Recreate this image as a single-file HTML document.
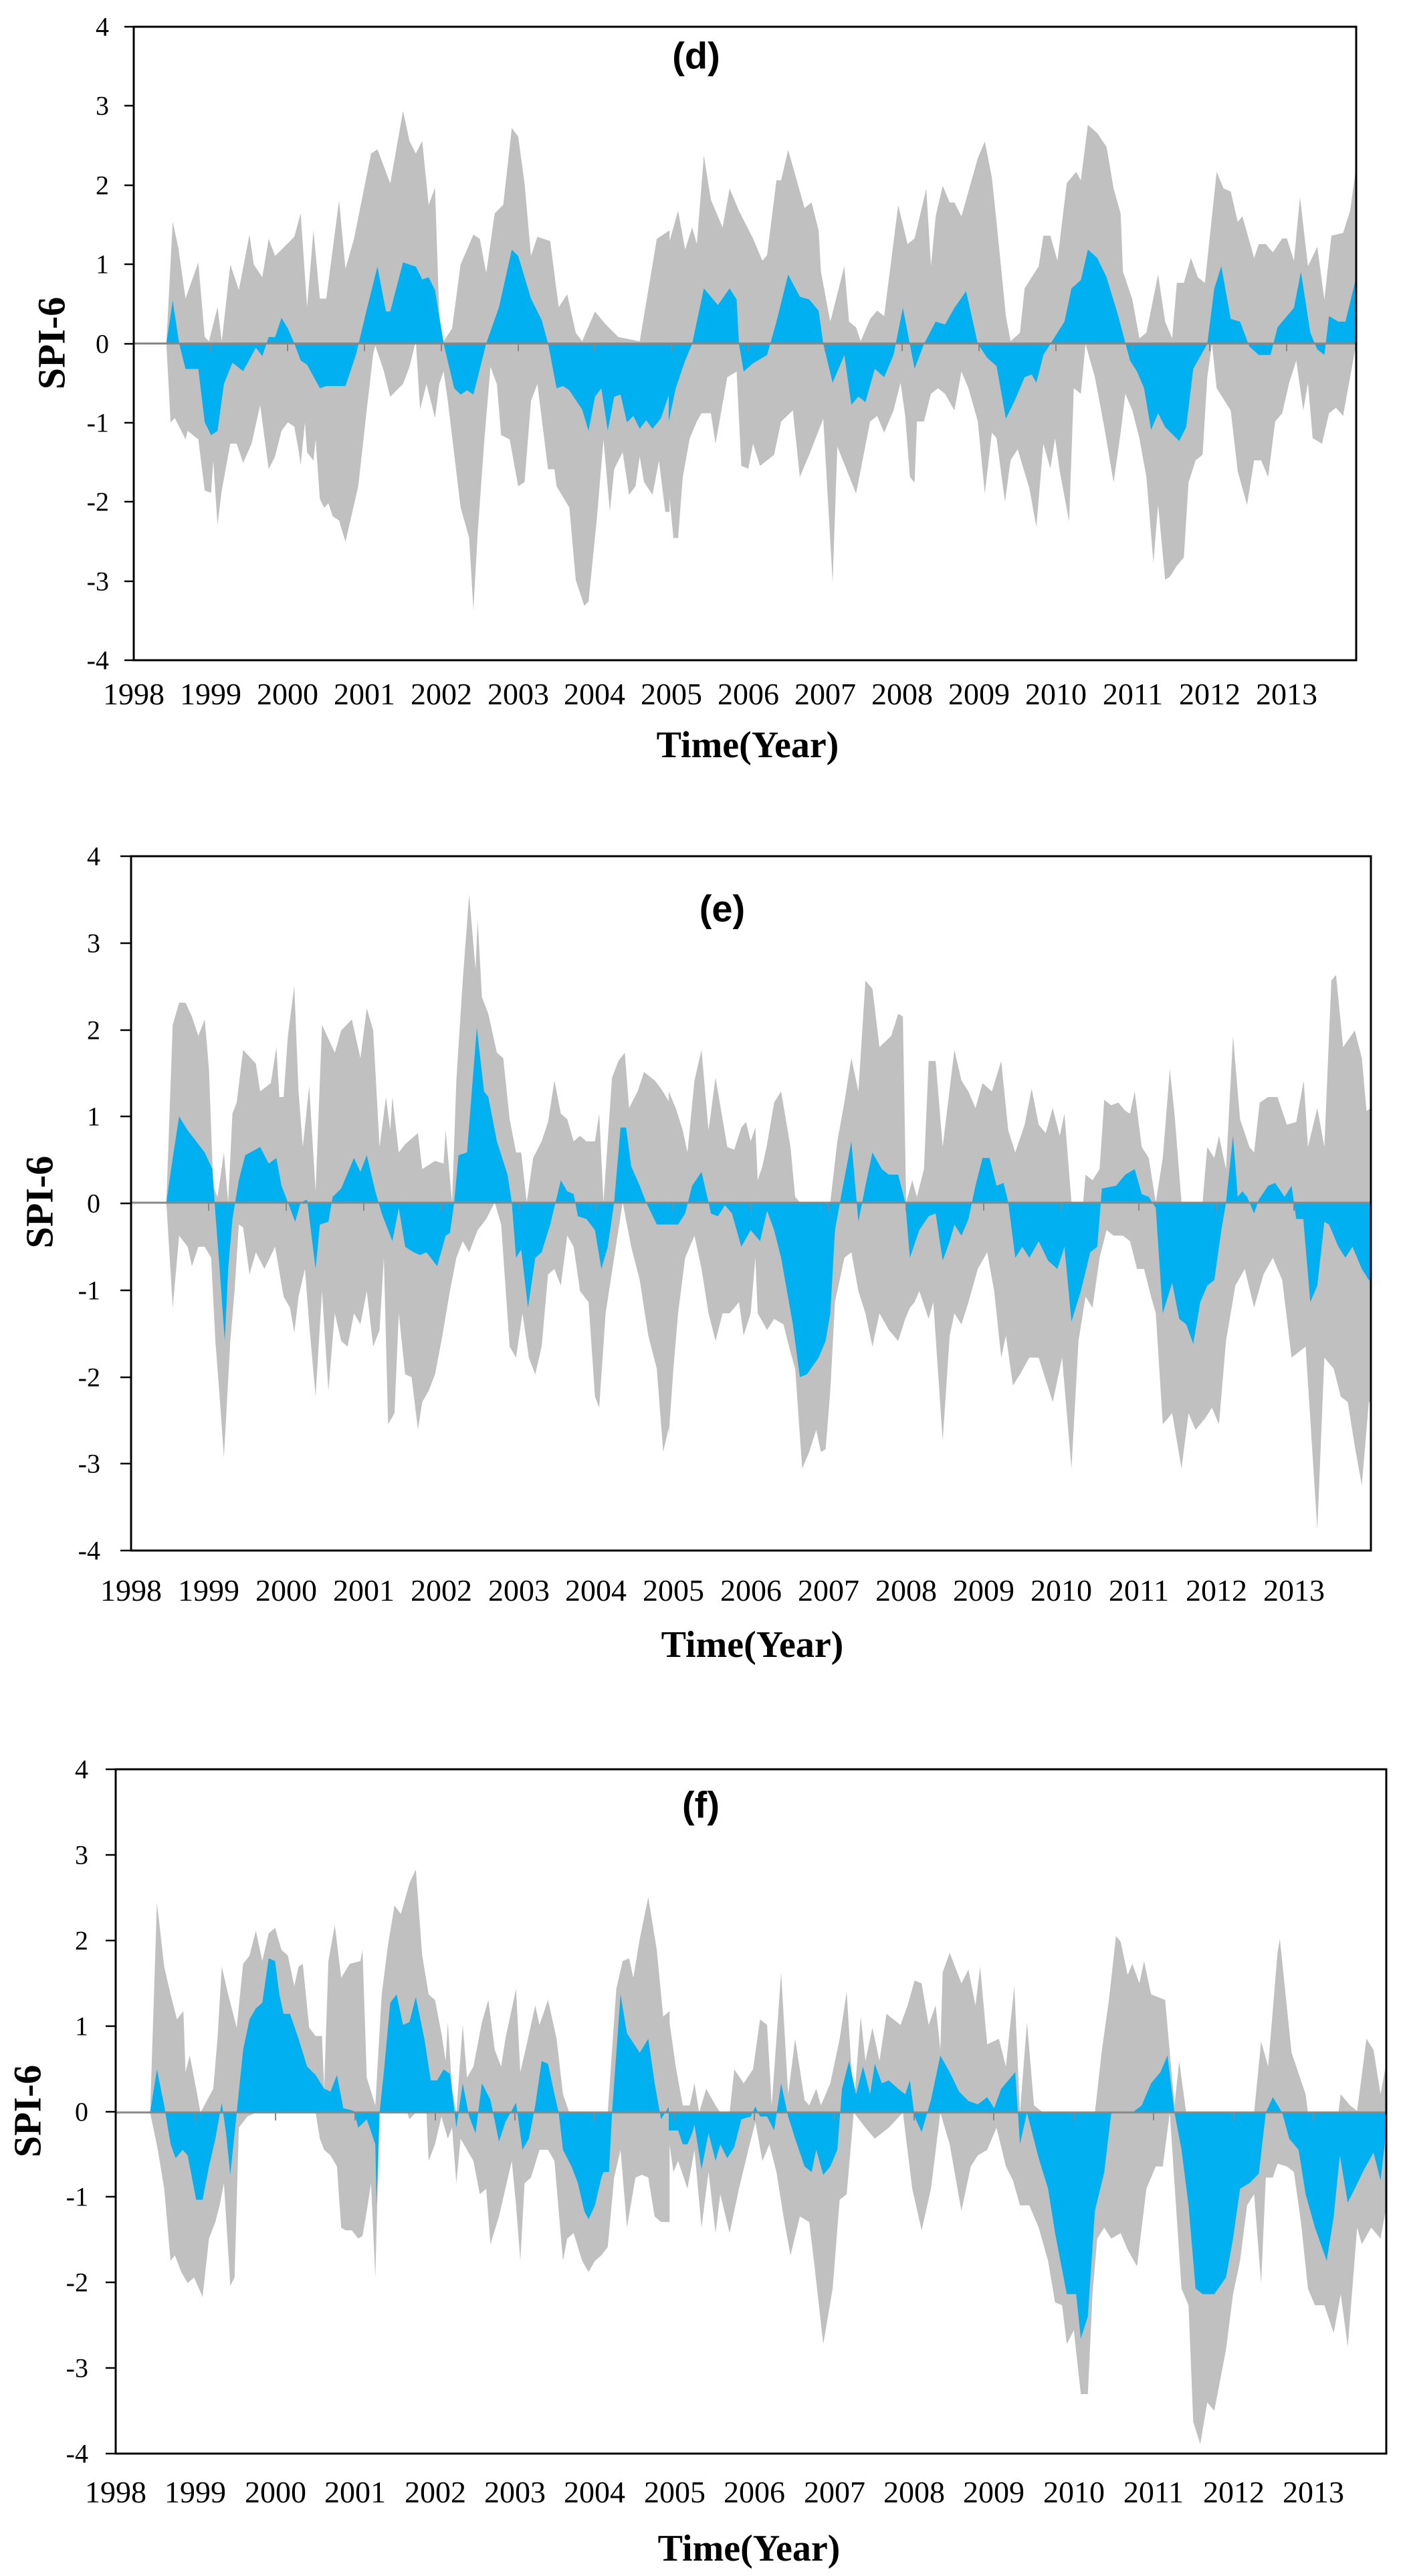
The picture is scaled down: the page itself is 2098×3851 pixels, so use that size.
<!DOCTYPE html>
<html><head><meta charset="utf-8"><style>
html,body{margin:0;padding:0;background:#fff;}
svg{display:block;}
.yl{font-family:"Liberation Serif",serif;font-size:40px;text-anchor:end;dominant-baseline:central;}
.xl{font-family:"Liberation Serif",serif;font-size:46px;text-anchor:middle;}
.tt{font-family:"Liberation Serif",serif;font-size:56px;font-weight:bold;text-anchor:middle;}
.sp{font-family:"Liberation Serif",serif;font-size:58px;font-weight:bold;text-anchor:middle;dominant-baseline:central;}
.pl{font-family:"Liberation Sans",sans-serif;font-size:56px;font-weight:bold;text-anchor:middle;dominant-baseline:central;}
.g{fill:#c0c0c0;}
.b{fill:#00b0f0;}
</style></head><body>
<svg width="2098" height="3851" viewBox="0 0 2098 3851" xmlns="http://www.w3.org/2000/svg">
<rect width="2098" height="3851" fill="#fff"/>

<!-- ===== Chart d ===== -->
<g transform="scale(0.63776)">
<polygon class="g" points="390,805 405,520 418,580 435,700 465,615 480,790 490,800 510,720 520,800 540,620 560,680 585,550 595,620 615,650 630,560 645,600 690,555 705,500 720,720 735,540 750,700 765,700 795,470 810,630 830,560 870,360 885,350 915,430 945,260 960,330 975,360 990,330 1005,480 1020,440 1030,740 1040,800 1060,770 1080,620 1110,550 1125,560 1140,640 1160,500 1180,480 1200,300 1215,320 1230,430 1245,600 1260,555 1290,565 1310,720 1330,690 1350,780 1365,800 1395,730 1420,760 1450,790 1500,800 1540,560 1570,540 1570,1200 1560,1200 1545,1080 1530,1160 1510,1130 1500,1070 1490,1140 1475,1160 1460,1060 1440,1100 1430,1200 1415,1030 1400,1210 1380,1410 1370,1420 1350,1360 1335,1190 1305,1140 1300,1100 1285,1100 1260,900 1245,940 1230,1130 1215,1140 1195,1030 1175,1020 1165,900 1150,860 1135,1040 1120,1250 1110,1430 1100,1260 1080,1190 1050,940 1040,870 1030,900 1020,980 1000,900 985,960 975,800 960,860 945,900 915,930 900,870 880,810 875,830 860,960 840,1140 810,1270 795,1220 780,1210 770,1180 760,1190 750,1170 740,1030 735,1080 720,1060 715,990 705,1090 700,1055 690,1000 675,990 660,1010 645,1070 630,1100 610,950 590,1040 570,1085 555,1040 540,1040 520,1150 510,1230 500,1080 495,1155 480,1150 465,1030 440,1010 435,1030 420,1000 410,980 400,990"/>
<polygon class="b" points="390,805 405,705 420,805 435,865 465,865 480,990 495,1020 510,1010 525,900 545,850 570,870 600,815 615,835 630,790 645,790 660,745 675,770 690,805 705,845 720,855 750,910 765,905 810,905 835,830 860,725 885,625 905,730 915,730 945,615 975,625 990,655 1005,650 1020,680 1040,805 1065,910 1080,925 1095,915 1110,925 1140,805 1170,720 1200,585 1215,600 1245,700 1270,750 1285,805 1305,910 1320,905 1335,915 1365,960 1380,1010 1395,930 1410,910 1425,1010 1440,930 1455,925 1470,990 1485,975 1500,1005 1515,985 1530,1005 1550,980 1570,920 1570,805"/>
</g>
<g transform="translate(1000,0) scale(0.70028,0.82919)">
<polygon class="g" points="0,440 20,380 35,450 50,410 60,440 75,280 90,360 115,410 130,340 150,380 180,430 200,470 210,460 230,325 240,325 255,270 290,375 305,365 320,415 325,490 345,580 375,480 385,580 400,590 410,615 430,575 445,560 460,570 490,370 510,440 525,430 550,340 560,480 570,390 585,335 600,365 610,365 625,390 640,345 660,285 675,255 690,320 700,400 720,570 730,615 750,600 760,520 790,480 800,425 815,425 830,470 850,330 870,310 880,325 895,225 915,240 935,265 950,340 965,385 970,490 990,540 1005,610 1020,600 1045,495 1060,580 1075,610 1085,510 1100,510 1115,465 1130,500 1145,510 1170,310 1185,340 1200,345 1215,400 1225,390 1250,465 1260,440 1275,440 1290,455 1310,430 1320,430 1335,470 1348,355 1365,480 1385,445 1400,540 1415,425 1440,420 1455,380 1468,300 1468,620 1455,680 1440,750 1425,735 1410,745 1395,800 1375,790 1365,690 1355,740 1340,650 1325,690 1310,745 1295,760 1280,860 1265,830 1250,830 1235,910 1215,850 1200,740 1185,720 1170,700 1160,620 1150,680 1140,820 1125,830 1110,870 1100,1005 1085,1020 1070,1040 1060,1045 1045,910 1035,1015 1020,860 1005,790 990,740 975,710 965,780 950,870 930,770 910,680 890,620 880,710 865,700 855,940 835,850 825,790 815,845 800,800 785,950 770,880 745,810 730,830 718,905 700,790 690,780 675,890 660,760 640,700 625,670 610,740 590,710 575,700 560,710 545,760 530,760 525,870 515,860 505,750 495,690 480,740 460,780 445,750 430,760 400,890 360,805 350,1050 330,755 300,820 280,860 265,740 240,760 225,820 195,840 180,800 170,845 155,840 145,670 125,680 100,800 90,745 70,745 60,760 45,790 30,860 20,970 10,970 0,880"/>
<polygon class="b" points="0,760 15,700 35,650 50,620 75,520 105,550 130,520 145,540 150,620 160,670 180,655 210,640 230,580 255,495 280,535 300,540 320,560 330,620 350,690 375,640 390,730 405,715 420,725 440,665 460,680 480,640 500,555 525,665 545,620 570,580 590,585 610,555 635,525 660,620 680,645 700,660 720,755 740,720 760,680 775,675 785,690 800,640 830,600 845,580 860,520 880,505 895,450 915,465 935,500 960,570 985,650 1000,670 1015,700 1030,775 1045,745 1060,770 1090,795 1105,770 1120,665 1150,620 1165,520 1180,480 1200,575 1220,580 1240,625 1260,640 1285,640 1300,590 1320,570 1335,555 1350,490 1370,600 1385,630 1400,640 1410,570 1430,580 1445,580 1468,500 1468,620 0,620"/>
</g>
<line x1="200" y1="513.5" x2="2028" y2="513.5" stroke="#888" stroke-width="3"/>
<g stroke="#888" stroke-width="2">
<line x1="315" y1="513" x2="315" y2="525"/><line x1="430" y1="513" x2="430" y2="525"/><line x1="545" y1="513" x2="545" y2="525"/><line x1="660" y1="513" x2="660" y2="525"/><line x1="775" y1="513" x2="775" y2="525"/><line x1="889" y1="513" x2="889" y2="525"/><line x1="1004" y1="513" x2="1004" y2="525"/><line x1="1119" y1="513" x2="1119" y2="525"/><line x1="1234" y1="513" x2="1234" y2="525"/><line x1="1349" y1="513" x2="1349" y2="525"/><line x1="1464" y1="513" x2="1464" y2="525"/><line x1="1579" y1="513" x2="1579" y2="525"/><line x1="1694" y1="513" x2="1694" y2="525"/><line x1="1809" y1="513" x2="1809" y2="525"/><line x1="1924" y1="513" x2="1924" y2="525"/>
</g>
<rect x="200" y="40" width="1828" height="947" fill="none" stroke="#000" stroke-width="3"/>
<g stroke="#000" stroke-width="2.5">
<line x1="186" y1="40" x2="200" y2="40"/><line x1="186" y1="158" x2="200" y2="158"/><line x1="186" y1="277" x2="200" y2="277"/><line x1="186" y1="395" x2="200" y2="395"/><line x1="186" y1="514" x2="200" y2="514"/><line x1="186" y1="632" x2="200" y2="632"/><line x1="186" y1="750" x2="200" y2="750"/><line x1="186" y1="869" x2="200" y2="869"/><line x1="186" y1="987" x2="200" y2="987"/>
</g>
<g class="yl">
<text x="163" y="40">4</text><text x="163" y="158">3</text><text x="163" y="277">2</text><text x="163" y="395">1</text><text x="163" y="514">0</text><text x="163" y="632">-1</text><text x="163" y="750">-2</text><text x="163" y="869">-3</text><text x="163" y="987">-4</text>
</g>
<g class="xl">
<text x="200" y="1053">1998</text><text x="315" y="1053">1999</text><text x="430" y="1053">2000</text><text x="545" y="1053">2001</text><text x="660" y="1053">2002</text><text x="775" y="1053">2003</text><text x="889" y="1053">2004</text><text x="1004" y="1053">2005</text><text x="1119" y="1053">2006</text><text x="1234" y="1053">2007</text><text x="1349" y="1053">2008</text><text x="1464" y="1053">2009</text><text x="1579" y="1053">2010</text><text x="1694" y="1053">2011</text><text x="1809" y="1053">2012</text><text x="1924" y="1053">2013</text>
</g>
<text class="tt" x="1118" y="1132">Time(Year)</text>
<text class="sp" transform="translate(77,513) rotate(-90)">SPI-6</text>
<text class="pl" x="1041" y="83">(d)</text>

<!-- ===== Chart e ===== -->
<g transform="translate(0,1300) scale(0.63776,0.82919)">
<polygon class="g" points="390,600 405,280 420,240 435,240 450,265 465,300 480,270 490,360 500,570 510,590 525,510 535,600 545,440 555,420 570,325 600,350 610,400 635,385 648,320 655,410 665,410 675,300 690,210 700,400 710,500 725,390 740,580 755,280 785,330 800,290 825,270 845,340 860,250 875,290 890,500 905,410 915,470 920,410 935,510 950,495 980,475 990,540 1020,525 1040,530 1045,470 1060,600 1070,380 1085,200 1100,45 1115,180 1120,90 1130,230 1145,260 1165,330 1180,340 1195,450 1210,510 1222,510 1235,600 1250,520 1270,490 1285,455 1300,380 1315,440 1330,450 1345,490 1360,480 1375,490 1395,490 1405,440 1415,600 1435,375 1450,345 1465,330 1475,430 1495,400 1510,365 1535,380 1550,395 1570,420 1570,1000 1555,1050 1540,900 1520,840 1500,740 1480,680 1460,600 1440,700 1420,800 1405,970 1395,950 1380,780 1360,760 1345,680 1330,660 1315,750 1300,720 1285,730 1270,860 1255,910 1240,880 1225,800 1210,880 1195,860 1175,640 1160,600 1140,630 1120,650 1100,690 1085,670 1070,700 1055,760 1035,850 1020,910 1005,940 990,960 980,1010 965,915 950,910 935,800 925,980 910,1000 900,700 890,830 875,860 860,760 845,820 830,800 815,860 800,850 785,800 770,940 755,760 740,950 725,820 715,720 700,770 690,835 680,790 665,770 645,680 620,720 600,690 585,730 570,645 560,640 550,760 540,850 525,1060 515,950 505,850 495,700 480,680 465,680 450,715 440,680 420,660 405,790"/>
<polygon class="b" points="390,600 405,520 420,445 440,470 460,490 480,510 498,540 505,620 515,720 527,850 535,720 545,630 560,560 575,515 610,500 630,530 648,520 660,570 680,610 692,635 705,600 720,595 740,720 750,640 770,635 780,590 800,575 830,520 845,545 860,515 880,580 895,620 920,670 935,610 950,680 970,690 985,695 1000,690 1025,715 1045,660 1055,655 1065,600 1075,515 1095,510 1118,285 1135,400 1145,410 1165,490 1190,550 1200,600 1210,700 1222,685 1238,790 1255,700 1270,690 1290,640 1315,560 1330,580 1345,585 1355,625 1375,630 1395,650 1410,720 1425,680 1440,600 1455,465 1468,465 1480,535 1500,570 1515,600 1540,640 1570,640 1570,600"/>
</g>
<g transform="translate(1000,1300) scale(0.70028,0.82919)">
<polygon class="g" points="0,400 15,430 30,470 40,510 55,380 70,325 85,470 100,375 125,500 140,505 155,465 165,455 175,490 185,465 190,560 200,535 210,495 225,420 240,400 260,500 270,590 280,600 345,600 360,490 375,420 390,340 405,400 420,200 435,215 450,320 475,300 490,260 500,265 507,600 520,560 530,590 545,540 555,345 570,345 585,500 610,325 625,380 640,400 655,430 670,385 690,400 710,345 725,470 740,510 760,460 775,395 790,460 805,475 820,430 835,480 845,440 860,600 885,600 890,550 905,560 920,540 930,415 945,425 960,420 975,435 985,440 995,400 1010,500 1025,520 1040,600 1055,520 1070,360 1080,440 1095,600 1140,600 1150,500 1165,520 1175,480 1190,540 1205,300 1220,450 1240,500 1250,510 1262,420 1280,410 1300,410 1320,460 1340,455 1356,380 1365,500 1385,430 1400,500 1415,200 1425,190 1440,320 1465,290 1480,340 1490,435 1500,430 1500,960 1495,960 1480,1110 1465,1040 1450,960 1435,950 1420,900 1400,880 1385,1190 1360,860 1345,870 1330,880 1310,740 1290,700 1270,730 1250,790 1230,720 1210,750 1190,850 1175,1000 1160,970 1145,990 1125,1010 1110,980 1095,1080 1075,980 1055,1000 1040,800 1030,770 1015,720 1000,720 985,670 970,660 950,660 935,650 920,700 905,790 890,770 875,850 860,1080 840,880 820,960 805,920 790,880 770,880 750,910 735,930 720,840 710,880 695,760 680,690 660,720 640,780 625,820 610,800 600,840 585,1030 565,780 555,810 535,760 525,780 515,790 505,810 490,850 470,830 450,800 435,860 420,800 405,760 390,690 375,700 355,780 345,940 335,1045 325,1050 315,1010 300,1050 285,1080 270,900 260,870 245,820 225,810 210,830 190,800 185,700 175,800 160,840 150,780 130,800 115,800 100,850 85,800 70,720 55,660 35,700 20,800 10,900 0,1020"/>
<polygon class="b" points="0,640 20,640 35,620 50,570 70,545 85,600 90,620 105,625 120,605 135,620 155,680 175,650 195,670 210,615 225,650 240,700 265,820 280,915 295,910 320,880 335,850 345,800 355,650 370,580 390,490 405,635 420,570 435,510 455,540 470,550 490,550 505,600 515,700 535,650 555,625 570,620 585,705 600,670 610,640 625,660 640,630 655,570 670,520 685,520 700,570 715,565 725,600 740,700 755,680 770,700 790,670 810,705 830,720 845,680 860,815 880,760 900,690 915,680 925,575 955,570 975,550 995,540 1010,585 1025,590 1040,610 1055,800 1075,745 1090,810 1105,820 1120,855 1135,780 1150,750 1165,740 1180,650 1190,600 1205,480 1215,590 1225,580 1235,590 1250,620 1260,595 1280,570 1295,565 1315,590 1330,570 1340,630 1355,630 1370,780 1385,750 1400,635 1410,640 1430,680 1445,700 1460,680 1480,720 1495,740 1500,740 1500,600 0,600"/>
</g>
<line x1="196" y1="1798" x2="2050" y2="1798" stroke="#888" stroke-width="3"/>
<g stroke="#888" stroke-width="2">
<line x1="312" y1="1798" x2="312" y2="1810"/><line x1="428" y1="1798" x2="428" y2="1810"/><line x1="544" y1="1798" x2="544" y2="1810"/><line x1="660" y1="1798" x2="660" y2="1810"/><line x1="776" y1="1798" x2="776" y2="1810"/><line x1="891" y1="1798" x2="891" y2="1810"/><line x1="1007" y1="1798" x2="1007" y2="1810"/><line x1="1123" y1="1798" x2="1123" y2="1810"/><line x1="1239" y1="1798" x2="1239" y2="1810"/><line x1="1355" y1="1798" x2="1355" y2="1810"/><line x1="1471" y1="1798" x2="1471" y2="1810"/><line x1="1587" y1="1798" x2="1587" y2="1810"/><line x1="1703" y1="1798" x2="1703" y2="1810"/><line x1="1819" y1="1798" x2="1819" y2="1810"/><line x1="1935" y1="1798" x2="1935" y2="1810"/>
</g>
<rect x="196" y="1280" width="1854" height="1038" fill="none" stroke="#000" stroke-width="3"/>
<g stroke="#000" stroke-width="2.5">
<line x1="180" y1="1280" x2="196" y2="1280"/><line x1="180" y1="1410" x2="196" y2="1410"/><line x1="180" y1="1540" x2="196" y2="1540"/><line x1="180" y1="1669" x2="196" y2="1669"/><line x1="180" y1="1799" x2="196" y2="1799"/><line x1="180" y1="1929" x2="196" y2="1929"/><line x1="180" y1="2059" x2="196" y2="2059"/><line x1="180" y1="2188" x2="196" y2="2188"/><line x1="180" y1="2318" x2="196" y2="2318"/>
</g>
<g class="yl">
<text x="150" y="1280">4</text><text x="150" y="1410">3</text><text x="150" y="1540">2</text><text x="150" y="1669">1</text><text x="150" y="1799">0</text><text x="150" y="1929">-1</text><text x="150" y="2059">-2</text><text x="150" y="2188">-3</text><text x="150" y="2318">-4</text>
</g>
<g class="xl">
<text x="196" y="2393">1998</text><text x="312" y="2393">1999</text><text x="428" y="2393">2000</text><text x="544" y="2393">2001</text><text x="660" y="2393">2002</text><text x="776" y="2393">2003</text><text x="891" y="2393">2004</text><text x="1007" y="2393">2005</text><text x="1123" y="2393">2006</text><text x="1239" y="2393">2007</text><text x="1355" y="2393">2008</text><text x="1471" y="2393">2009</text><text x="1587" y="2393">2010</text><text x="1703" y="2393">2011</text><text x="1819" y="2393">2012</text><text x="1935" y="2393">2013</text>
</g>
<text class="tt" x="1125" y="2477">Time(Year)</text>
<text class="sp" transform="translate(59,1797) rotate(-90)">SPI-6</text>
<text class="pl" x="1080" y="1358">(e)</text>

<!-- ===== Chart f ===== -->
<g transform="translate(0,2550) scale(0.63776,0.82988)">
<polygon class="g" points="352,733 368,355 385,470 400,520 415,565 430,550 435,660 445,630 460,690 470,733 500,690 510,600 520,470 535,520 545,550 555,580 570,465 585,450 600,405 615,460 630,410 645,400 660,440 675,450 690,505 700,470 710,465 725,580 740,595 755,595 760,690 770,460 785,395 800,490 820,465 845,460 850,440 860,670 880,720 895,520 910,430 925,360 940,375 960,320 975,295 990,450 1005,520 1020,530 1035,590 1045,640 1050,570 1060,690 1070,733 1085,575 1095,670 1110,650 1130,570 1145,530 1160,620 1175,650 1185,600 1210,510 1220,660 1235,610 1255,540 1265,575 1285,530 1305,600 1320,700 1335,733 1425,733 1445,510 1460,460 1475,455 1485,490 1500,420 1520,345 1540,440 1555,560 1570,550 1570,930 1550,930 1535,920 1520,850 1505,845 1490,850 1470,940 1455,800 1440,850 1425,975 1410,990 1395,1000 1380,1020 1365,1000 1345,950 1330,960 1320,1000 1300,820 1285,800 1265,800 1245,850 1230,860 1220,1000 1210,900 1200,820 1185,870 1170,920 1150,970 1140,870 1125,880 1110,820 1095,800 1080,780 1070,860 1060,760 1050,780 1035,740 1020,790 1005,820 1000,733 975,733 960,745 955,733 900,733 890,733 880,1030 870,860 860,910 850,955 840,960 825,945 810,945 800,940 790,830 775,810 760,800 750,780 740,733 600,733 580,740 560,760 550,1030 540,1045 525,860 515,900 505,930 490,960 475,1065 455,1030 440,1040 425,1020 410,990 400,1000 385,870 370,800"/>
<polygon class="b" points="352,733 368,655 385,720 400,790 412,815 428,800 440,810 460,890 475,890 490,830 505,780 520,715 530,770 540,845 555,733 570,620 585,565 600,545 615,535 630,455 645,460 655,520 665,555 680,555 700,600 720,650 740,665 760,690 775,695 790,665 805,725 830,730 840,760 860,745 880,790 883,900 890,733 900,660 915,535 930,520 945,575 960,570 975,525 995,600 1010,675 1025,675 1040,655 1055,663 1070,760 1085,680 1100,740 1115,770 1130,680 1150,710 1170,785 1185,750 1210,715 1225,800 1240,780 1255,720 1270,640 1285,645 1300,700 1310,733 1320,800 1340,830 1355,860 1370,910 1380,925 1395,900 1410,850 1415,840 1428,840 1435,733 1455,520 1470,590 1500,625 1520,600 1535,680 1550,745 1570,720 1570,733"/>
</g>
<g transform="translate(1000,2550) scale(0.70028,0.82988)">
<polygon class="g" points="0,560 15,650 30,720 45,720 55,680 65,733 80,690 100,720 110,733 130,733 140,655 160,680 180,655 195,565 210,575 220,720 240,480 255,700 270,600 290,710 300,720 315,690 325,720 345,680 365,600 380,515 395,720 410,560 420,640 435,580 450,640 465,555 495,575 510,540 525,495 540,500 555,575 570,540 580,620 585,480 600,445 625,500 640,475 655,540 665,470 680,610 705,600 720,650 738,505 750,733 765,570 780,720 800,733 910,733 925,620 940,530 955,415 965,425 980,485 990,465 1005,500 1015,460 1030,520 1045,525 1060,530 1080,720 1090,640 1105,733 1250,733 1265,605 1280,650 1300,445 1305,420 1330,625 1360,700 1365,733 1430,733 1435,700 1455,720 1470,730 1490,600 1505,620 1520,700 1533,640 1533,900 1520,960 1500,940 1480,970 1470,940 1450,1155 1435,1060 1420,1130 1400,1080 1380,1080 1365,1050 1350,930 1335,840 1320,830 1300,825 1290,850 1275,850 1265,1040 1250,880 1235,900 1220,1000 1205,1060 1190,1160 1165,1270 1150,1255 1135,1330 1120,1290 1110,1080 1095,1050 1080,860 1070,733 1055,830 1040,830 1020,870 1000,1010 980,980 965,950 945,960 930,940 915,960 905,1060 895,1240 880,1240 865,1125 850,1150 840,1080 825,1075 810,1000 790,940 770,900 750,900 735,855 720,830 700,760 680,800 660,810 645,830 625,910 600,790 580,733 560,870 540,945 520,870 500,733 470,760 440,780 420,760 395,733 380,880 365,890 350,1050 330,1150 310,1000 300,930 280,920 260,990 245,920 230,840 215,790 200,820 185,750 170,800 150,870 130,950 110,880 100,950 85,840 70,940 55,800 40,870 20,820 10,840 0,780"/>
<polygon class="b" points="0,765 20,765 30,790 40,790 50,770 55,755 70,835 85,770 100,820 110,790 125,815 140,795 155,745 175,740 185,722 195,740 210,740 225,765 240,680 255,740 270,780 290,830 305,840 315,800 330,845 345,830 360,800 370,690 385,640 400,700 415,650 430,700 440,645 455,680 470,675 490,690 505,700 515,675 525,740 540,768 560,710 580,630 600,660 620,695 640,712 660,718 680,705 695,725 710,690 740,660 750,790 765,733 790,815 810,870 825,950 850,1060 870,1060 880,1140 895,1100 910,910 930,840 945,733 990,733 1010,720 1030,680 1050,660 1065,630 1080,733 1095,800 1110,900 1125,1050 1140,1060 1165,1060 1190,1030 1205,960 1220,870 1240,860 1260,843 1275,733 1290,705 1310,733 1325,780 1345,800 1360,880 1380,940 1405,1000 1420,920 1433,810 1450,895 1465,870 1485,835 1505,805 1520,855 1533,760 1533,733 0,733"/>
</g>
<line x1="173" y1="3158" x2="2073" y2="3158" stroke="#888" stroke-width="3"/>
<g stroke="#888" stroke-width="2">
<line x1="292" y1="3158" x2="292" y2="3170"/><line x1="412" y1="3158" x2="412" y2="3170"/><line x1="531" y1="3158" x2="531" y2="3170"/><line x1="651" y1="3158" x2="651" y2="3170"/><line x1="770" y1="3158" x2="770" y2="3170"/><line x1="889" y1="3158" x2="889" y2="3170"/><line x1="1009" y1="3158" x2="1009" y2="3170"/><line x1="1128" y1="3158" x2="1128" y2="3170"/><line x1="1248" y1="3158" x2="1248" y2="3170"/><line x1="1367" y1="3158" x2="1367" y2="3170"/><line x1="1486" y1="3158" x2="1486" y2="3170"/><line x1="1606" y1="3158" x2="1606" y2="3170"/><line x1="1725" y1="3158" x2="1725" y2="3170"/><line x1="1845" y1="3158" x2="1845" y2="3170"/><line x1="1964" y1="3158" x2="1964" y2="3170"/>
</g>
<rect x="173" y="2645" width="1900" height="1023" fill="none" stroke="#000" stroke-width="3"/>
<g stroke="#000" stroke-width="2.5">
<line x1="158" y1="2645" x2="173" y2="2645"/><line x1="158" y1="2773" x2="173" y2="2773"/><line x1="158" y1="2901" x2="173" y2="2901"/><line x1="158" y1="3029" x2="173" y2="3029"/><line x1="158" y1="3157" x2="173" y2="3157"/><line x1="158" y1="3284" x2="173" y2="3284"/><line x1="158" y1="3412" x2="173" y2="3412"/><line x1="158" y1="3540" x2="173" y2="3540"/><line x1="158" y1="3668" x2="173" y2="3668"/>
</g>
<g class="yl">
<text x="132" y="2645">4</text><text x="132" y="2773">3</text><text x="132" y="2901">2</text><text x="132" y="3029">1</text><text x="132" y="3157">0</text><text x="132" y="3284">-1</text><text x="132" y="3412">-2</text><text x="132" y="3540">-3</text><text x="132" y="3668">-4</text>
</g>
<g class="xl">
<text x="173" y="3741">1998</text><text x="292" y="3741">1999</text><text x="412" y="3741">2000</text><text x="531" y="3741">2001</text><text x="651" y="3741">2002</text><text x="770" y="3741">2003</text><text x="889" y="3741">2004</text><text x="1009" y="3741">2005</text><text x="1128" y="3741">2006</text><text x="1248" y="3741">2007</text><text x="1367" y="3741">2008</text><text x="1486" y="3741">2009</text><text x="1606" y="3741">2010</text><text x="1725" y="3741">2011</text><text x="1845" y="3741">2012</text><text x="1964" y="3741">2013</text>
</g>
<text class="tt" x="1120" y="3828">Time(Year)</text>
<text class="sp" transform="translate(41,3156) rotate(-90)">SPI-6</text>
<text class="pl" x="1048" y="2698">(f)</text>
</svg>
</body></html>
